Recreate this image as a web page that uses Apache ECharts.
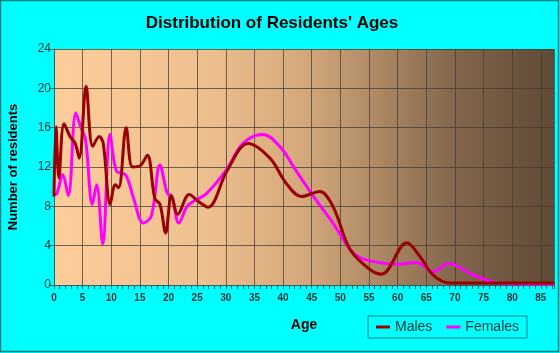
<!DOCTYPE html>
<html>
<head>
<meta charset="utf-8">
<script src="https://cdn.jsdelivr.net/npm/echarts@6/dist/echarts.min.js"></script>
<style>
html,body{margin:0;padding:0;background:#00FFFF;}
#c{width:560px;height:353px;}
</style>
</head>
<body>
<div id="c"></div>
<script>
var titleText = "Distribution of Residents' Ages";
var xName = "Age";
var yName = "Number of residents";
var seriesNames = ["Males", "Females"];

var maleAges = [0, 0.35, 0.85, 1.75, 2.8, 3.7, 4.4, 5.6, 6.75, 7.9, 8.6, 9.8, 10.7, 11.3, 12.6, 13.7, 15, 16.3, 17.6, 18.5, 19.5, 20.5, 21.6, 23.6, 25.2, 26.9, 30.2, 33.9, 37.7, 40.6, 43.2, 46.4, 48.7, 51.7, 55.1, 57.2, 61.6, 63.9, 66.2, 69.1, 75, 80, 87.3];
var maleVals = [9.0, 16.1, 10.9, 16.4, 15.1, 14.4, 12.9, 20.2, 14.1, 15.1, 14.4, 8.2, 10.2, 9.9, 16.0, 12.0, 12.1, 13.2, 8.8, 8.2, 5.3, 9.1, 7.2, 9.2, 8.5, 7.9, 11.6, 14.4, 12.9, 10.3, 9.0, 9.5, 8.0, 3.6, 1.6, 1.1, 4.3, 2.9, 1.0, 0.2, 0.2, 0.2, 0.2];

var femaleAges = [0, 0.5, 1.5, 2.5, 3.8, 4.7, 5.5, 6.7, 7.45, 8.5, 9.8, 10.9, 12.5, 13.8, 15.6, 17.0, 18.5, 19.8, 20.6, 21.8, 23.4, 26.6, 30.1, 33.0, 36.5, 39.4, 42.4, 45.8, 48.7, 51.7, 53.4, 55.7, 59.8, 63.3, 66.2, 68.9, 72.6, 76.1, 78.5, 87.3];
var femaleVals = [9.2, 9.3, 11.2, 9.1, 17.5, 16.0, 14.8, 8.2, 10.2, 4.2, 15.3, 11.6, 11.2, 9.0, 6.3, 7.0, 12.2, 9.3, 9.0, 6.3, 8.1, 9.3, 11.7, 14.4, 15.3, 14.1, 11.5, 8.6, 6.3, 3.6, 2.8, 2.4, 2.1, 2.3, 1.35, 2.2, 1.2, 0.4, 0.15, 0.1];

var yTicks = [0, 4, 8, 12, 16, 20, 24];
var xTicks = [0, 5, 10, 15, 20, 25, 30, 35, 40, 45, 50, 55, 60, 65, 70, 75, 80, 85];

function pairs(a, b) { return a.map(function (v, i) { return [v, b[i]]; }); }

var chart = echarts.init(document.getElementById('c'), null, {renderer: 'canvas'});
chart.setOption({
  backgroundColor: '#00FFFF',
  animation: false,
  graphic: [
    {type: 'rect', shape: {x: 0.5, y: 0.5, width: 558, height: 351}, style: {fill: 'none', stroke: '#008080', lineWidth: 1.5}, silent: true},
    {type: 'text', x: 272, y: 23, style: {text: titleText, font: 'bold 17px "Liberation Sans", Arial, sans-serif', fill: '#000', align: 'center', verticalAlign: 'middle'}}
  ],
  grid: {
    left: 54, top: 49, right: 6, bottom: 68,
    outerBoundsMode: 'none', containLabel: false,
    show: true, borderWidth: 0,
    backgroundColor: new echarts.graphic.LinearGradient(0, 0, 1, 0, [
      {offset: 0, color: '#FDCD9B'},
      {offset: 0.3, color: '#EFC08F'},
      {offset: 0.5, color: '#D4A87C'},
      {offset: 0.65, color: '#AC8864'},
      {offset: 0.8, color: '#83674C'},
      {offset: 1, color: '#5E4A37'}
    ])
  },
  legend: {
    left: 368, top: 316, width: 153, height: 23,
    padding: [4, 8, 4, 8],
    borderColor: '#008080', borderWidth: 1,
    icon: 'rect', itemWidth: 14, itemHeight: 3, itemGap: 14,
    textStyle: {fontSize: 14, color: '#003838', fontFamily: '"Liberation Sans", Arial, sans-serif'},
    data: seriesNames
  },
  xAxis: {
    type: 'value', min: 0, max: 87.3, interval: 5,
    name: xName, nameLocation: 'middle', nameGap: 33,
    nameTextStyle: {fontSize: 14, fontWeight: 'bold', color: '#000', fontFamily: '"Liberation Sans", Arial, sans-serif'},
    axisLine: {show: true, lineStyle: {color: '#2F5F5F', width: 1}},
    axisTick: {show: true, length: 4, lineStyle: {color: '#2F5F5F'}},
    minorTick: {show: true, splitNumber: 5, length: 4, lineStyle: {color: '#2F5F5F'}},
    axisLabel: {showMaxLabel: false, fontSize: 10, fontWeight: 'bold', color: '#003333', margin: 8, fontFamily: '"Liberation Sans", Arial, sans-serif',
      formatter: function (v) { return xTicks.indexOf(v) >= 0 ? String(v) : ''; }},
    splitLine: {show: true, lineStyle: {color: 'rgba(70,60,50,0.75)', width: 1}}
  },
  yAxis: {
    type: 'value', min: 0, max: 24, interval: 4,
    name: yName, nameLocation: 'middle', nameGap: 34,
    nameTextStyle: {fontSize: 13, fontWeight: 'bold', color: '#000', fontFamily: '"Liberation Sans", Arial, sans-serif'},
    axisLine: {show: true, lineStyle: {color: '#2F5F5F', width: 1}},
    axisTick: {show: true, length: 5, lineStyle: {color: '#2F5F5F'}},
    axisLabel: {fontSize: 12, color: '#003333', margin: 3, fontFamily: '"Liberation Sans", Arial, sans-serif',
      formatter: function (v) { return yTicks.indexOf(v) >= 0 ? String(v) : ''; }},
    splitLine: {show: true, lineStyle: {color: 'rgba(70,60,50,0.75)', width: 1}}
  },
  series: [
    {name: seriesNames[0], type: 'line', data: pairs(maleAges, maleVals), smooth: 0.35, showSymbol: false, symbol: 'none',
      lineStyle: {color: '#990000', width: 3}, itemStyle: {color: '#990000'}, z: 3},
    {name: seriesNames[1], type: 'line', data: pairs(femaleAges, femaleVals), smooth: 0.35, showSymbol: false, symbol: 'none',
      lineStyle: {color: '#FF00FF', width: 3}, itemStyle: {color: '#FF00FF'}, z: 2}
  ]
});
</script>
</body>
</html>
